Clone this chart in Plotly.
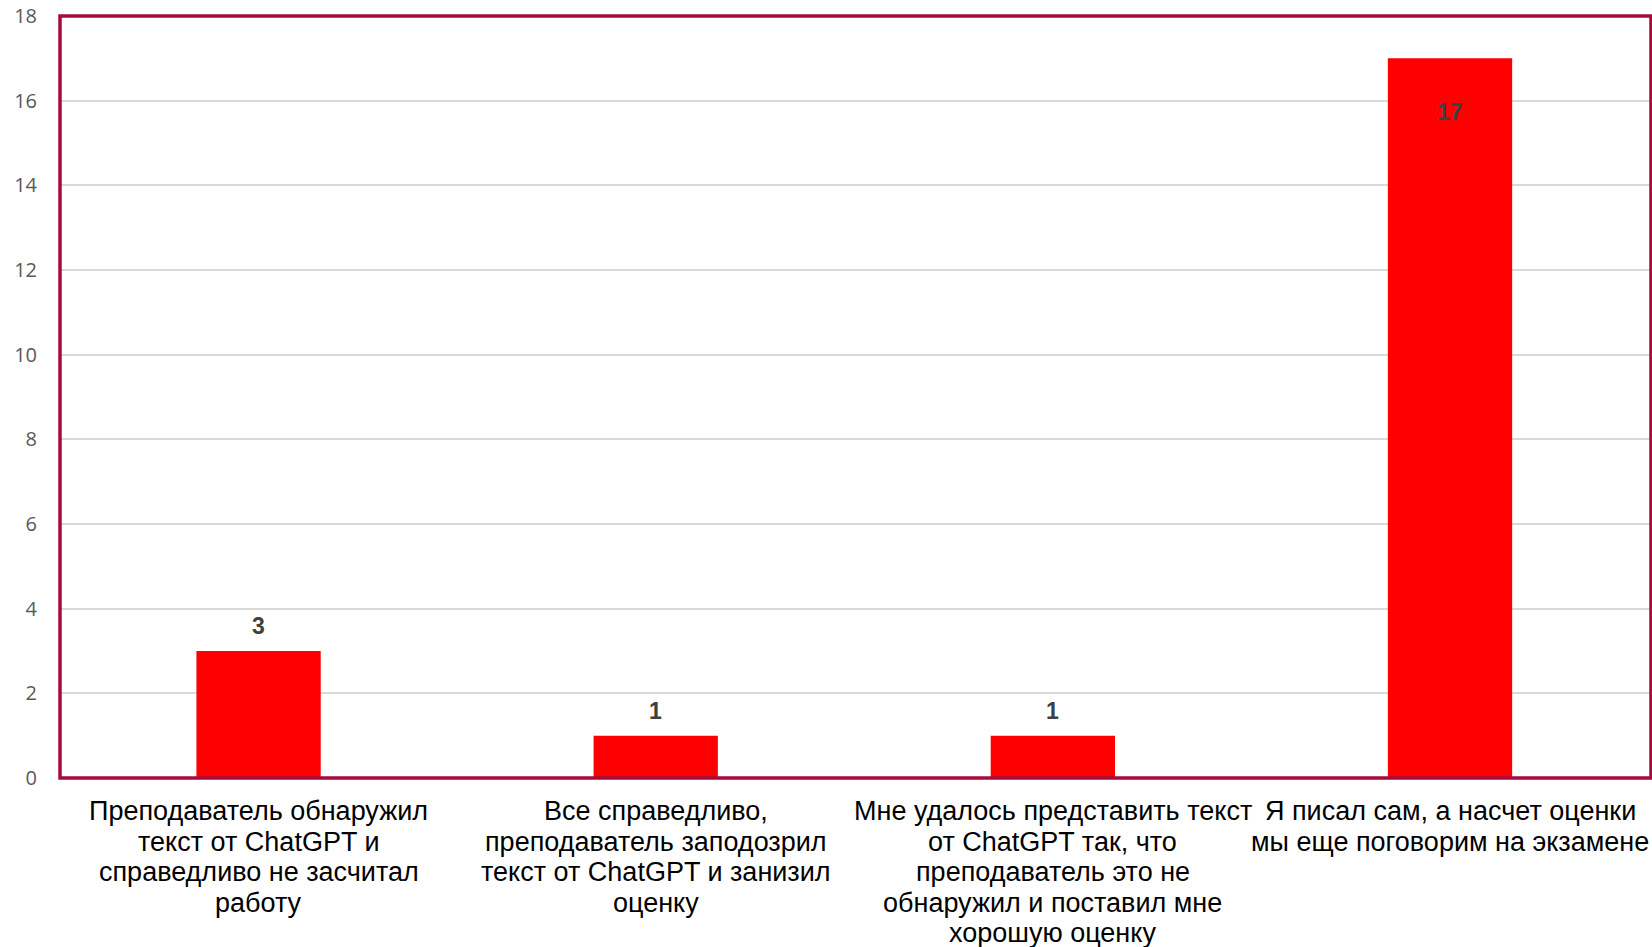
import plotly.graph_objects as go

category_lines = [
    ["Преподаватель обнаружил", "текст от ChatGPT и", "справедливо не засчитал", "работу"],
    ["Все справедливо,", "преподаватель заподозрил", "текст от ChatGPT и занизил", "оценку"],
    ["Мне удалось представить текст", "от ChatGPT так, что", "преподаватель это не",
     "обнаружил и поставил мне", "хорошую оценку"],
    ["Я писал сам, а насчет оценки", "мы еще поговорим на экзамене"],
]
categories = [" ".join(lines) for lines in category_lines]
values = [3, 1, 1, 17]
y_ticks = [0, 2, 4, 6, 8, 10, 12, 14, 16, 18]

fig = go.Figure()
fig.add_trace(go.Bar(
    x=categories, y=values,
    marker=dict(color="#FF0000", line=dict(width=0)),
    width=0.313,
    hoverinfo="skip",
))

label_font = dict(family="Liberation Sans, Arial", size=23, color="#404040")
for c, v in zip(categories, values):
    fig.add_annotation(x=c, y=v, text=f"<b>{v}</b>", showarrow=False,
                       yshift=-54 if v > 10 else 25, font=label_font)

# category labels, one line per annotation for tight line spacing
cat_font = dict(family="Liberation Sans, Arial", size=27, color="#000000")
for c, lines in zip(categories, category_lines):
    for i, line in enumerate(lines):
        fig.add_annotation(x=c, xref="x", y=0, yref="paper", text=line,
                           showarrow=False, yanchor="middle",
                           yshift=-33 - 30.5 * i, font=cat_font)

fig.add_shape(type="line", xref="paper", yref="paper", x0=0, x1=1,
              y0=0, y1=0, ysizemode="pixel", yanchor=0,
              line=dict(color="#C8C8C8", width=2), layer="above")
fig.add_shape(type="rect", xref="paper", yref="paper", x0=0, x1=1, y0=0, y1=1,
              line=dict(color="#A50B3C", width=3.5), layer="above")

fig.update_layout(
    width=1652, height=947,
    margin=dict(l=60, r=1, t=16, b=169, autoexpand=False),
    plot_bgcolor="white", paper_bgcolor="white",
    showlegend=False,
    xaxis=dict(
        showticklabels=False, showgrid=False, showline=False,
        ticks="", fixedrange=True, automargin=False,
    ),
    yaxis=dict(
        range=[0, 18], tickvals=y_ticks,
        tickfont=dict(family="Open Sans, Lato, sans-serif", size=20, color="#595959"),
        showgrid=True, gridcolor="#D9D9D9", gridwidth=1.5,
        zeroline=False, ticks="", ticklabelstandoff=22, fixedrange=True,
        automargin=False,
    ),
)

fig.write_html("out.html", config={"displayModeBar": False},
               post_script="document.body.style.margin='0';document.body.style.overflow='hidden';")
